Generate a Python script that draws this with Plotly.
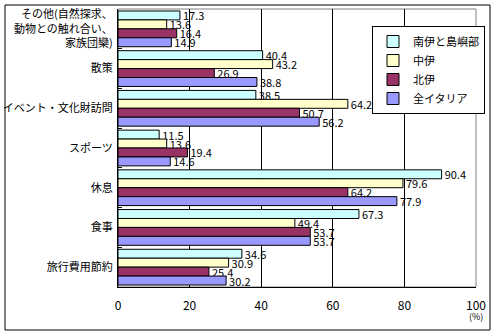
import plotly.graph_objects as go

categories = ["その他(自然探求、<br>動物との触れ合い、<br>家族団欒)", "散策", "イベント・文化財訪問", "スポーツ", "休息", "食事", "旅行費用節約"]
series_names = ["南伊と島嶼部", "中伊", "北伊", "全イタリア"]
south = [17.3, 40.4, 38.5, 11.5, 90.4, 67.3, 34.6]
center = [13.6, 43.2, 64.2, 13.6, 79.6, 49.4, 30.9]
north = [16.4, 26.9, 50.7, 19.4, 64.2, 53.7, 25.4]
italy = [14.9, 38.8, 56.2, 14.6, 77.9, 53.7, 30.2]
colors = ["#CCFFFF", "#FFFFCC", "#993366", "#9999FF"]
x_ticks = [0, 20, 40, 60, 80, 100]

FONT = "Noto Sans CJK JP"
fig = go.Figure()
for name, vals, col in zip(series_names, [south, center, north, italy], colors):
    fig.add_trace(go.Bar(
        y=categories, x=vals, name=name, orientation="h",
        marker=dict(color=col, line=dict(color="black", width=1)),
        text=[f"{v:.1f}" for v in vals], textposition="outside",
        textfont=dict(family=FONT, size=11, color="black"),
        constraintext="none", cliponaxis=False,
    ))

L, R, T, B = 118, 476, 9, 287
W, H = R - L, B - T
fig.update_layout(
    width=504, height=335,
    margin=dict(l=L, r=504 - R, t=T, b=335 - B),
    paper_bgcolor="white", plot_bgcolor="white",
    barmode="group", bargap=0.1, bargroupgap=0,
    font=dict(family=FONT, size=11, color="black"),
    legend=dict(x=(372 - L) / W, y=(B - 26) / H, xanchor="left", yanchor="top",
                bordercolor="black", borderwidth=1, bgcolor="white",
                font=dict(size=11), traceorder="normal", tracegroupgap=0,
                itemwidth=30),
    showlegend=True,
    xaxis=dict(range=[0, 100], tickvals=x_ticks, showgrid=True, gridcolor="black",
               gridwidth=1, zeroline=False, showline=True, linecolor="black",
               ticks="", ticklabelstandoff=8, tickfont=dict(size=12), automargin=False),
    yaxis=dict(autorange="reversed", showline=True, linecolor="black",
               ticks="inside", tickson="boundaries", ticklen=4, tickcolor="black",
               tickfont=dict(size=11), ticklabelstandoff=2, automargin=False),
    shapes=[
        dict(type="rect", xref="paper", yref="paper", x0=0, x1=1, y0=0, y1=1,
             line=dict(color="#808080", width=1), layer="below"),
        dict(type="rect", xref="paper", yref="paper",
             x0=(5 - L) / W, x1=(490 - L) / W, y0=(B - 330) / H, y1=(B - 5) / H,
             line=dict(color="black", width=1)),
    ],
    annotations=[dict(x=100, xref="x", y=(B - 316) / H, yref="paper", yanchor="middle",
                      text="(%)", showarrow=False, font=dict(size=9))],
)
fig.write_html("out.html")
